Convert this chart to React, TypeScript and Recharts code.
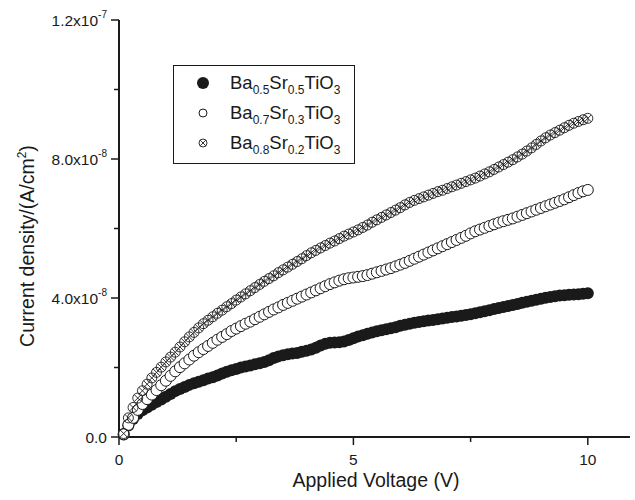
import { ScatterChart, Scatter, XAxis, YAxis, Legend, Label } from 'recharts';

const FONT = '"Liberation Sans", Arial, Helvetica, sans-serif';
const INK = '#1a1a1a';

// applied voltage (V)
const voltage = [
  0.1, 0.2, 0.3, 0.4, 0.5, 0.6, 0.7, 0.8, 0.9, 1.0,
  1.1, 1.2, 1.3, 1.4, 1.5, 1.6, 1.7, 1.8, 1.9, 2.0,
  2.1, 2.2, 2.3, 2.4, 2.5, 2.6, 2.7, 2.8, 2.9, 3.0,
  3.1, 3.2, 3.3, 3.4, 3.5, 3.6, 3.7, 3.8, 3.9, 4.0,
  4.1, 4.2, 4.3, 4.4, 4.5, 4.6, 4.7, 4.8, 4.9, 5.0,
  5.1, 5.2, 5.3, 5.4, 5.5, 5.6, 5.7, 5.8, 5.9, 6.0,
  6.1, 6.2, 6.3, 6.4, 6.5, 6.6, 6.7, 6.8, 6.9, 7.0,
  7.1, 7.2, 7.3, 7.4, 7.5, 7.6, 7.7, 7.8, 7.9, 8.0,
  8.1, 8.2, 8.3, 8.4, 8.5, 8.6, 8.7, 8.8, 8.9, 9.0,
  9.1, 9.2, 9.3, 9.4, 9.5, 9.6, 9.7, 9.8, 9.9, 10.0,
];

// current density, in units of 1e-8 A/cm2
const jBa05 = [
  0.07, 0.33, 0.52, 0.66, 0.77, 0.85, 0.93, 1.01, 1.08, 1.16,
  1.24, 1.32, 1.38, 1.44, 1.50, 1.55, 1.59, 1.63, 1.68, 1.72,
  1.77, 1.83, 1.88, 1.92, 1.96, 2.00, 2.03, 2.06, 2.09, 2.12,
  2.16, 2.21, 2.27, 2.32, 2.35, 2.38, 2.40, 2.42, 2.45, 2.48,
  2.52, 2.57, 2.63, 2.68, 2.71, 2.72, 2.73, 2.75, 2.79, 2.84,
  2.89, 2.93, 2.97, 3.01, 3.04, 3.07, 3.10, 3.13, 3.16, 3.20,
  3.23, 3.26, 3.29, 3.31, 3.33, 3.35, 3.37, 3.39, 3.41, 3.43,
  3.45, 3.47, 3.49, 3.51, 3.53, 3.56, 3.59, 3.62, 3.65, 3.68,
  3.71, 3.74, 3.77, 3.80, 3.83, 3.86, 3.89, 3.92, 3.95, 3.98,
  4.01, 4.03, 4.05, 4.07, 4.08, 4.09, 4.10, 4.11, 4.12, 4.14,
];

const jBa07 = [
  0.08, 0.35, 0.55, 0.78, 0.95, 1.09, 1.22, 1.35, 1.49, 1.62,
  1.76, 1.89, 2.01, 2.12, 2.23, 2.34, 2.44, 2.53, 2.62, 2.71,
  2.80, 2.88, 2.96, 3.05, 3.12, 3.19, 3.26, 3.32, 3.39, 3.46,
  3.53, 3.60, 3.67, 3.73, 3.80, 3.86, 3.92, 3.98, 4.04, 4.10,
  4.16, 4.22, 4.28, 4.34, 4.40, 4.45, 4.50, 4.54, 4.57, 4.59,
  4.61, 4.63, 4.66, 4.70, 4.74, 4.78, 4.82, 4.86, 4.91, 4.96,
  5.01, 5.07, 5.13, 5.19, 5.25, 5.31, 5.37, 5.43, 5.49, 5.55,
  5.61, 5.67, 5.73, 5.79, 5.86, 5.92, 5.97, 6.02, 6.07, 6.12,
  6.17, 6.21, 6.25, 6.29, 6.34, 6.39, 6.44, 6.49, 6.54, 6.59,
  6.64, 6.69, 6.74, 6.79, 6.84, 6.90, 6.96, 7.02, 7.07, 7.11,
];

const jBa08 = [
  0.10, 0.55, 0.85, 1.12, 1.33, 1.52, 1.70, 1.86, 2.01, 2.16,
  2.30, 2.44, 2.59, 2.74, 2.88, 3.01, 3.14, 3.26, 3.36, 3.46,
  3.56, 3.65, 3.75, 3.84, 3.94, 4.03, 4.12, 4.21, 4.30, 4.39,
  4.48, 4.56, 4.64, 4.73, 4.81, 4.89, 4.97, 5.05, 5.13, 5.22,
  5.30, 5.37, 5.44, 5.51, 5.58, 5.64, 5.71, 5.78, 5.84, 5.90,
  5.96, 6.03, 6.10, 6.18, 6.25, 6.32, 6.39, 6.46, 6.53, 6.60,
  6.68, 6.75, 6.81, 6.86, 6.91, 6.96, 7.01, 7.06, 7.10, 7.15,
  7.20, 7.25, 7.30, 7.35, 7.40, 7.45, 7.51, 7.57, 7.63, 7.70,
  7.77, 7.84, 7.91, 7.98, 8.06, 8.14, 8.23, 8.32, 8.42, 8.52,
  8.61, 8.69, 8.76, 8.83, 8.90, 8.97, 9.03, 9.08, 9.13, 9.17,
];

const xTicks = [0, 2.5, 5, 7.5, 10];
const xTickText = ['0', '', '5', '', '10'];
const yTicks = [0, 2, 4, 6, 8, 10, 12];
const yTickText = ['0.0', '', '4.0x10', '', '8.0x10', '', '1.2x10'];
const yTickExp = ['', '', '-8', '', '-8', '', '-7'];

// legend: Ba(x)Sr(1-x)TiO3
const baSub = ['0.5', '0.7', '0.8'];
const srSub = ['0.5', '0.3', '0.2'];

const toRows = (ys: number[]) => voltage.map((v, i) => ({ x: v, y: ys[i] }));

function FilledDot({ cx, cy, r = 6 }: any) {
  return <circle cx={cx} cy={cy} r={r} fill={INK} />;
}

function OpenDot({ cx, cy, r = 5.5 }: any) {
  return <circle cx={cx} cy={cy} r={r} fill="#fff" stroke={INK} strokeWidth={1} />;
}

function CrossDot({ cx, cy, r = 5 }: any) {
  const d = r * 0.707;
  return (
    <g>
      <circle cx={cx} cy={cy} r={r} fill="none" stroke={INK} strokeWidth={0.9} />
      <line x1={cx - d} y1={cy - d} x2={cx + d} y2={cy + d} stroke={INK} strokeWidth={0.9} />
      <line x1={cx - d} y1={cy + d} x2={cx + d} y2={cy - d} stroke={INK} strokeWidth={0.9} />
    </g>
  );
}

function XTick({ x, y, payload }: any) {
  const i = xTicks.indexOf(payload.value);
  const major = xTickText[i] !== '';
  return (
    <g>
      <line x1={x} y1={y} x2={x} y2={y + (major ? 8 : 5)} stroke={INK} strokeWidth={1.5} />
      {major && (
        <text x={x} y={y + 28} textAnchor="middle" fontSize={15.5} fill={INK} fontFamily={FONT}>
          {xTickText[i]}
        </text>
      )}
    </g>
  );
}

function YTick({ x, y, payload }: any) {
  const i = yTicks.indexOf(payload.value);
  const major = yTickText[i] !== '';
  return (
    <g>
      <line x1={x - (major ? 8 : 5)} y1={y} x2={x} y2={y} stroke={INK} strokeWidth={1.5} />
      {major && (
        <text x={x - 12} y={y + 5.5} textAnchor="end" fontSize={15.5} fill={INK} fontFamily={FONT}>
          <tspan>{yTickText[i]}</tspan>
          {yTickExp[i] && (
            <tspan fontSize={10} dy={-8}>
              {yTickExp[i]}
            </tspan>
          )}
        </text>
      )}
    </g>
  );
}

function LegendBox() {
  const markers = [FilledDot, OpenDot, CrossDot];
  const sizes = [6, 4, 4];
  return (
    <svg width={182} height={99} style={{ display: 'block' }}>
      <rect x={0.5} y={0.5} width={181} height={98} fill="#fff" stroke={INK} strokeWidth={1} />
      {baSub.map((b, i) => {
        const cy = 18 + i * 30;
        const M = markers[i];
        return (
          <g key={b + i}>
            <M cx={30} cy={cy} r={sizes[i]} />
            <text x={57} y={cy + 6} fontSize={18.5} fill={INK} fontFamily={FONT}>
              <tspan>Ba</tspan>
              <tspan fontSize={12} dy={5}>{b}</tspan>
              <tspan dy={-5}>Sr</tspan>
              <tspan fontSize={12} dy={5}>{srSub[i]}</tspan>
              <tspan dy={-5}>TiO</tspan>
              <tspan fontSize={12} dy={5}>3</tspan>
            </text>
          </g>
        );
      })}
    </svg>
  );
}

export default function App() {
  return (
    <div style={{ position: 'absolute', left: 0, top: 0, width: 635, height: 500, background: '#fff' }}>
      <ScatterChart width={635} height={500} margin={{ top: 20, right: 5, bottom: 0, left: 0 }}>
        <XAxis
          type="number"
          dataKey="x"
          domain={[0, 10.9]}
          ticks={xTicks}
          interval={0}
          height={63}
          tickSize={0}
          tickMargin={0}
          tickLine={false}
          tick={(p: any) => <XTick {...p} />}
          axisLine={{ stroke: INK, strokeWidth: 2 }}
        >
          <Label
            content={() => (
              <text x={376} y={487} textAnchor="middle" fontSize={19.5} fill={INK} fontFamily={FONT}>
                Applied Voltage (V)
              </text>
            )}
          />
        </XAxis>
        <YAxis
          type="number"
          dataKey="y"
          domain={[0, 12]}
          ticks={yTicks}
          interval={0}
          width={119}
          tickSize={0}
          tickMargin={0}
          tickLine={false}
          tick={(p: any) => <YTick {...p} />}
          axisLine={{ stroke: INK, strokeWidth: 2 }}
        >
          <Label
            content={() => (
              <text
                x={34}
                y={246}
                transform="rotate(-90, 34, 246)"
                textAnchor="middle"
                fontSize={19.5}
                fill={INK}
                fontFamily={FONT}
              >
                <tspan>Current density/(A/cm</tspan>
                <tspan fontSize={12} dy={-8}>2</tspan>
                <tspan dy={8}>)</tspan>
              </text>
            )}
          />
        </YAxis>
        <XAxis
          xAxisId="top"
          orientation="top"
          type="number"
          domain={[0, 10.9]}
          height={0}
          tick={false}
          tickLine={false}
          axisLine={{ stroke: INK, strokeWidth: 1 }}
        />
        <YAxis
          yAxisId="right"
          orientation="right"
          type="number"
          domain={[0, 12]}
          width={0}
          tick={false}
          tickLine={false}
          axisLine={{ stroke: INK, strokeWidth: 1 }}
        />
        <Legend
          layout="vertical"
          align="center"
          verticalAlign="middle"
          content={() => <LegendBox />}
          wrapperStyle={{ position: 'absolute', left: 173, top: 65, width: 182, height: 99 }}
        />
        <Scatter
          name="Ba0.5Sr0.5TiO3"
          data={toRows(jBa05)}
          shape={(p: any) => <FilledDot cx={p.cx} cy={p.cy} />}
          isAnimationActive={false}
        />
        <Scatter
          name="Ba0.7Sr0.3TiO3"
          data={toRows(jBa07)}
          shape={(p: any) => <OpenDot cx={p.cx} cy={p.cy} />}
          isAnimationActive={false}
        />
        <Scatter
          name="Ba0.8Sr0.2TiO3"
          data={toRows(jBa08)}
          shape={(p: any) => <CrossDot cx={p.cx} cy={p.cy} />}
          isAnimationActive={false}
        />
      </ScatterChart>
    </div>
  );
}
